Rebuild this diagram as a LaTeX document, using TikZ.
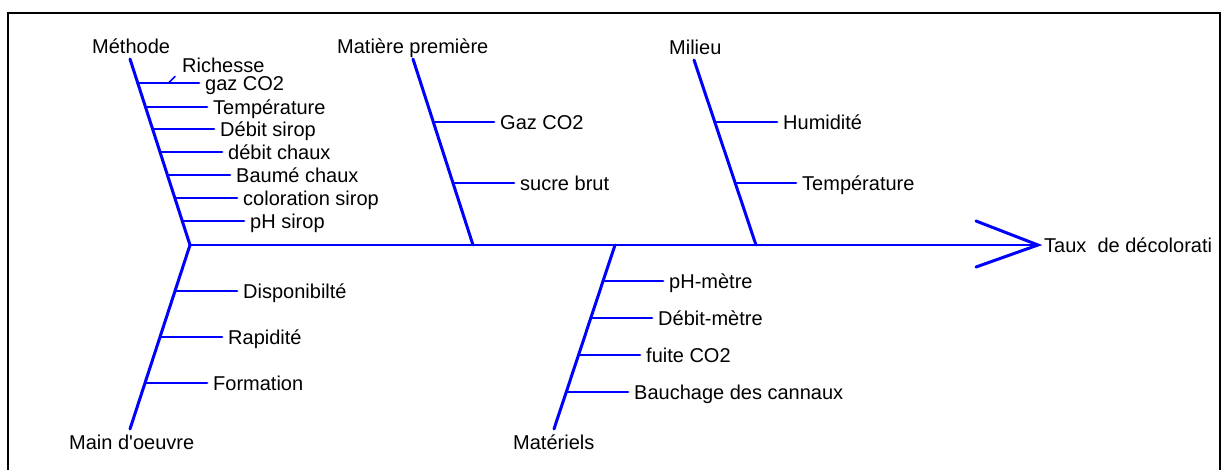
\documentclass[tikz,border=0pt]{standalone}
\usepackage{fontspec}
\setmainfont{Liberation Sans}[Ligatures=TeXOff]
\definecolor{fishblue}{RGB}{0,0,255}
\begin{document}
\begin{tikzpicture}[x=1pt,y=-1pt,
  bone/.style={draw=fishblue, line width=3pt, line cap=round},
  spine/.style={draw=fishblue, line width=2.6pt, line cap=round},
  rib/.style={draw=fishblue, line width=2.8pt, line cap=round},
  tick/.style={draw=fishblue, line width=1.6pt, line cap=round},
  lbl/.style={font=\fontsize{20}{22}\selectfont, inner sep=0pt, anchor=base west},
  frame/.style={draw=black, line width=2.2pt}]
\useasboundingbox (0,0) rectangle (1227,469);
\clip (0,0) rectangle (1227,469);

% outer frame (runs off the bottom edge)
\draw[frame] (8,13) rectangle (1220,490);

% spine and arrow head
\coordinate (head) at (190,245);
\coordinate (tip) at (1038,245);
\coordinate (armU) at (976,221);
\coordinate (armL) at (976,267);
\draw[spine] (head) -- (tip);
\draw[bone] (armU) -- (tip) -- (armL);
\begin{scope}
  \clip (8,13) rectangle (1219,469);
  \node[lbl] (effect) at (1044,252) {Taux\ \ de décolorati};
\end{scope}

% category labels
\node[lbl] (methode) at (92,53) {Méthode};
\node[lbl] (matiere) at (337,53) {Matière première};
\node[lbl] (milieu) at (669,54) {Milieu};
\node[lbl] (mainoeuvre) at (69,449) {Main d'oeuvre};
\node[lbl] (materiels) at (513,449) {Matériels};

% main bones
\coordinate (methTop) at (130,59);
\coordinate (matTop) at (413,59);
\coordinate (matBase) at (473,245);
\coordinate (milTop) at (694,60);
\coordinate (milBase) at (756,245);
\coordinate (mainBot) at (130,429);
\coordinate (mtlBot) at (554,429);
\coordinate (mtlBase) at (615,245);
\draw[bone] (methTop) -- (head);
\draw[bone] (matTop) -- (matBase);
\draw[bone] (milTop) -- (milBase);
\draw[bone] (mainBot) -- (head);
\draw[bone] (mtlBot) -- (mtlBase);

% ribs: start x on bone / y / end x / name / text
\foreach \sx/\y/\ex/\n/\t in {
  137.7/83/199/gaz/{gaz CO2},
  145.5/107/207/temp/{Température},
  152.6/129/214/debs/{Débit sirop},
  160/152/222/debc/{débit chaux},
  167.4/175/230/baume/{Baumé chaux},
  174.8/198/237/color/{coloration sirop},
  182.3/221/244/phs/{pH sirop},
  433.3/122/494/gazb/{Gaz CO2},
  453/183/514/sucre/{sucre brut},
  714.8/122/777/humid/{Humidité},
  735.2/183/796/tempm/{Température},
  175.7/291/237/dispo/{Disponibilté},
  160.5/337/222/rapid/{Rapidité},
  145.3/383/207/form/{Formation},
  603/281/663/phm/{pH-mètre},
  590.8/318/652/debm/{Débit-mètre},
  578.5/355/640/fuite/{fuite CO2},
  566.3/392/628/bauch/{Bauchage des cannaux}} {
  \coordinate (\n-a) at (\sx,\y);
  \coordinate (\n-b) at (\ex,\y);
  \draw[rib] (\n-a) -- (\n-b);
  \node[lbl] (\n-l) at (\ex+6,\y+7) {\t};
}

% second line of the first rib label, with its leader tick
\node[lbl] (richesse) at (182,72.5) {Richesse};
\coordinate (tickA) at (168.3,83.3);
\coordinate (tickB) at (175,76.5);
\draw[tick] (tickA) -- (tickB);
\end{tikzpicture}
\end{document}
